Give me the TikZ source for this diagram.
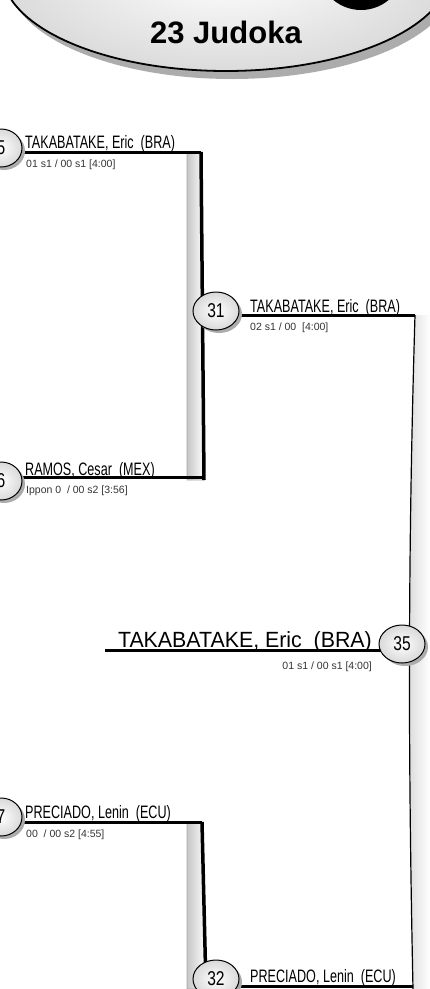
\documentclass[tikz,border=0pt]{standalone}
\usepackage{fontspec}
\setmainfont{Liberation Sans}
\newfontfamily\narrowf[FakeStretch=0.70]{Liberation Sans}
\newfontfamily\numf[FakeStretch=0.78]{Liberation Sans}
\newfontfamily\finalf[FakeStretch=0.97]{Liberation Sans}
\usetikzlibrary{shapes.geometric,shadows}
\begin{document}
\begin{tikzpicture}[x=1pt,y=-1pt,
  namestyle/.style={font=\narrowf\fontsize{18}{18}\selectfont, inner sep=0pt, anchor=base west},
  finalname/.style={font=\finalf\fontsize{22}{22}\selectfont, inner sep=0pt, anchor=base east},
  scorestyle/.style={font=\fontsize{10.5}{10.5}\selectfont, inner sep=0pt, anchor=base west, text=black!80},
  numcircle/.style={ellipse, draw=black, line width=1pt, minimum width=46pt, minimum height=38pt, inner sep=0pt,
     inner color=white, outer color=gray!30, font=\numf\fontsize{20}{20}\selectfont,
     drop shadow={shadow xshift=3pt, shadow yshift=-3pt, fill=gray!65, opacity=1}},
  hline/.style={line width=3pt, black},
  barfill/.style={left color=gray!45, right color=white, draw=gray!70, line width=0.6pt},
  barline/.style={line width=3.5pt, black}
]
\useasboundingbox (0,0) rectangle (430,989);
% header ellipse
\fill[gray!65] (232,-21) ellipse (224 and 100);
\shade[inner color=white, outer color=gray!28, draw=black, line width=1.8pt] (226,-29) ellipse (224 and 100);
\fill[black] (361,-33) circle (43);
\node (title) at (226,43) [anchor=base, inner sep=0pt, font=\bfseries\fontsize{31}{31}\selectfont] {23 Judoka};

% bar 1
\shade[barfill] (187,152) -- (201,152) -- (204,480) -- (187,480) -- cycle;
\coordinate (b1t) at (201,152);
\coordinate (b1b) at (204,480);
\draw[barline] (b1t) -- (b1b);
% bar 3
\shade[barfill] (187,822) -- (202,822) -- (206,989) -- (187,989) -- cycle;
\coordinate (b3t) at (202,822);
\coordinate (b3b) at (206,989);
\draw[barline] (b3t) -- (b3b);
% bar 2
\shade[left color=gray!28, right color=white] (415,315) .. controls (408,550) and (408,750) .. (413,989) -- (430,989) -- (430,315) -- cycle;
\coordinate (b2t) at (415,315);
\coordinate (b2b) at (413,989);
\draw[line width=1.2pt] (b2t) .. controls (408,550) and (408,750) .. (b2b);

% horizontal lines
\coordinate (l5) at (15,152);
\coordinate (l6) at (15,477);
\coordinate (l6e) at (203,477);
\coordinate (l31) at (204,315);
\coordinate (lf) at (105,650);
\coordinate (lfe) at (385,650);
\coordinate (l7) at (15,822);
\coordinate (l32) at (205,986);
\coordinate (l32e) at (413,986);
\draw[hline] (l5) -- (b1t);
\draw[hline] (l6) -- (l6e);
\draw[hline] (l31) -- (b2t);
\draw[hline] (lf) -- (lfe);
\draw[hline] (l7) -- (b3t);
\draw[hline] (l32) -- (l32e);

% circles
\node[numcircle, minimum width=42pt] (c5) at (1,148) {5};
\node[numcircle, minimum width=42pt] (c6) at (1,481) {6};
\node[numcircle, minimum width=42pt] (c7) at (1,817) {7};
\node[numcircle] (c31) at (216,311) {31};
\node[numcircle] (c35) at (402,644) {35};
\node[numcircle] (c32) at (216,979) {32};

% names
\node[namestyle] (n5) at (25,148) {TAKABATAKE, Eric~ (BRA)};
\node[scorestyle] (s5) at (26,167) {01 s1 / 00 s1 [4:00]};
\node[namestyle] (n6) at (25,475) {RAMOS, Cesar~ (MEX)};
\node[scorestyle] (s6) at (26,493) {Ippon 0~ / 00 s2 [3:56]};
\node[namestyle] (n31) at (250,312) {TAKABATAKE, Eric~ (BRA)};
\node[scorestyle] (s31) at (250,330) {02 s1 / 00~ [4:00]};
\node[finalname] (nf) at (372,647) {TAKABATAKE, Eric~ (BRA)};
\node[scorestyle, anchor=base east] (sf) at (372,669) {01 s1 / 00 s1 [4:00]};
\node[namestyle] (n7) at (25,818) {PRECIADO, Lenin~ (ECU)};
\node[scorestyle] (s7) at (26,837) {00~ / 00 s2 [4:55]};
\node[namestyle] (n32) at (250,982) {PRECIADO, Lenin~ (ECU)};
\end{tikzpicture}
\end{document}
